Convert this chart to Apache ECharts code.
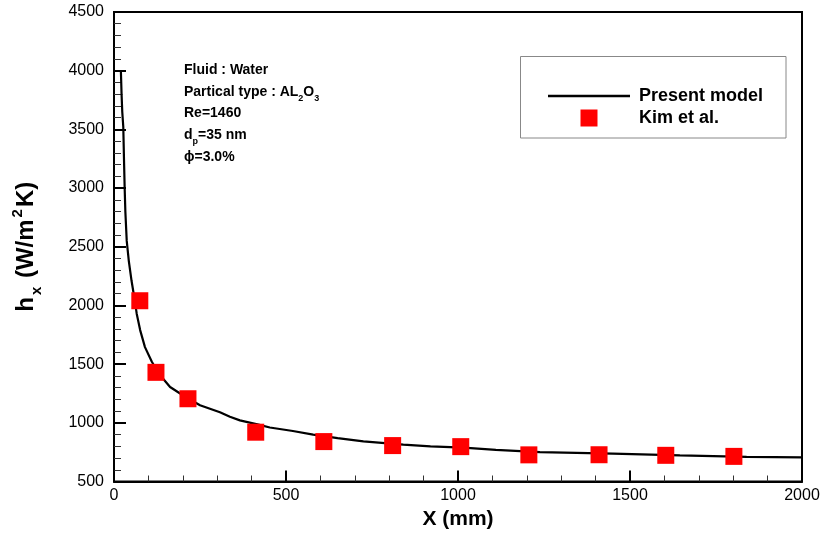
<!DOCTYPE html>
<html>
<head>
<meta charset="utf-8">
<script src="https://cdn.jsdelivr.net/npm/echarts@6/dist/echarts.min.js"></script>
<style>
  html, body { margin: 0; padding: 0; background: #fff; }
  #chart { width: 825px; height: 536px; }
</style>
</head>
<body>
<div id="chart"></div>
<script>
// Local heat transfer coefficient along the tube (present model)
var modelX = [20, 22, 24, 27, 29, 31, 33, 37, 43, 51, 60, 66, 76, 90, 110, 130, 163, 200, 250, 308, 337, 366, 420, 453, 520, 579, 650, 725, 841, 920, 1016, 1110, 1238, 1450, 1645, 1839, 2000];
var modelH = [4000, 3800, 3650, 3520, 3250, 3000, 2800, 2550, 2380, 2210, 2050, 1930, 1790, 1645, 1520, 1420, 1305, 1235, 1150, 1090, 1051, 1021, 985, 960, 930, 900, 870, 842, 814, 800, 789, 770, 751, 738, 722, 710, 706];

// Experimental data points (Kim et al.)
var kimX = [75, 122, 215, 412, 610, 810, 1008, 1206, 1410, 1604, 1802];
var kimH = [2040, 1430, 1205, 920, 840, 806, 797, 727, 728, 723, 714];

// Axis tick values
var xTicks = [0, 500, 1000, 1500, 2000];
var yTicks = [500, 1000, 1500, 2000, 2500, 3000, 3500, 4000, 4500];

var FONT = '"Liberation Sans", Arial, sans-serif';

function pairs(xs, ys) {
  var out = [];
  for (var i = 0; i < xs.length; i++) out.push([xs[i], ys[i]]);
  return out;
}
function plain(v) { return String(v); }

var noteRich = {
  b: { fontFamily: FONT, fontWeight: 'bold', fontSize: 14, color: '#000' },
  s: { fontFamily: FONT, fontWeight: 'bold', fontSize: 9, color: '#000', verticalAlign: 'bottom', padding: [0, 0, -4, 0] }
};
var noteLines = [
  '{b|Fluid : Water}',
  '{b|Partical type : AL}{s|2}{b|O}{s|3}',
  '{b|Re=1460}',
  '{b|d}{s|p}{b|=35 nm}',
  '{b|\u03d5=3.0%}'
];
var notes = noteLines.map(function (t, i) {
  return {
    type: 'text', left: 184, top: 63 + i * 21.7, z: 10,
    style: { text: t, rich: noteRich, fill: '#000' }
  };
});

var chart = echarts.init(document.getElementById('chart'), null, { renderer: 'canvas' });
chart.setOption({
  backgroundColor: '#fff',
  animation: false,
  grid: {
    left: 114, right: 23, top: 12, bottom: 54.5,
    show: true, borderColor: '#000', borderWidth: 2, backgroundColor: 'transparent'
  },
  xAxis: {
    type: 'value', min: xTicks[0], max: xTicks[xTicks.length - 1], interval: 500,
    name: 'X (mm)', nameLocation: 'middle', nameGap: 21,
    nameTextStyle: { fontFamily: FONT, fontWeight: 'bold', fontSize: 21, color: '#000' },
    axisLine: { lineStyle: { color: '#000', width: 2 } },
    axisTick: { inside: true, length: 11, lineStyle: { color: '#000', width: 2 } },
    minorTick: { show: true, splitNumber: 5, length: 6, lineStyle: { color: '#333', width: 1 } },
    splitLine: { show: false },
    axisLabel: { fontFamily: FONT, fontSize: 16, color: '#000', margin: 6, formatter: plain }
  },
  yAxis: {
    type: 'value', min: yTicks[0], max: yTicks[yTicks.length - 1], interval: 500,
    name: '{n|h}{sub|x}{n| (W/m}{sup|2}{n|K)}', nameLocation: 'middle', nameGap: 76, nameRotate: 90,
    nameTextStyle: {
      fontFamily: FONT, fontWeight: 'bold', fontSize: 24, color: '#000',
      rich: {
        n: { fontFamily: FONT, fontWeight: 'bold', fontSize: 24, color: '#000', padding: [0, 1, 0, 1] },
        sub: { fontFamily: FONT, fontWeight: 'bold', fontSize: 15, color: '#000', verticalAlign: 'bottom', padding: [0, 1, -6, 1] },
        sup: { fontFamily: FONT, fontWeight: 'bold', fontSize: 15, color: '#000', verticalAlign: 'top', padding: [-4, 1, 0, 1] }
      }
    },
    axisLine: { lineStyle: { color: '#000', width: 2 } },
    axisTick: { inside: true, length: 12, lineStyle: { color: '#000', width: 2 } },
    minorTick: { show: true, splitNumber: 5, length: 7, lineStyle: { color: '#333', width: 1 } },
    splitLine: { show: false },
    axisLabel: { fontFamily: FONT, fontSize: 16, color: '#000', margin: 10, formatter: plain }
  },
  legend: {
    orient: 'vertical', left: 543, top: 82,
    itemWidth: 82, itemHeight: 17, itemGap: 4,
    symbolKeepAspect: true,
    textStyle: { fontFamily: FONT, fontWeight: 'bold', fontSize: 18, color: '#000', padding: [0, 0, 0, 4] },
    data: [
      { name: 'Present model', icon: 'path://M0,0L82,0L82,2.5L0,2.5Z', itemStyle: { color: '#000' } },
      { name: 'Kim et al.', icon: 'path://M0,0L10,0L10,10L0,10Z', itemStyle: { color: '#ff0000' } }
    ]
  },
  graphic: [
    {
      type: 'rect', z: 1, silent: true,
      shape: { x: 520.5, y: 56.5, width: 265.5, height: 81.5 },
      style: { fill: 'none', stroke: '#888', lineWidth: 1 }
    }
  ].concat(notes),
  series: [
    {
      name: 'Present model', type: 'line', data: pairs(modelX, modelH),
      symbol: 'none', smooth: false,
      lineStyle: { color: '#000', width: 2.2 }, itemStyle: { color: '#000' }, z: 2
    },
    {
      name: 'Kim et al.', type: 'scatter', data: pairs(kimX, kimH),
      symbol: 'rect', symbolSize: 17,
      itemStyle: { color: '#ff0000', opacity: 1 }, z: 3
    }
  ]
});
</script>
</body>
</html>
